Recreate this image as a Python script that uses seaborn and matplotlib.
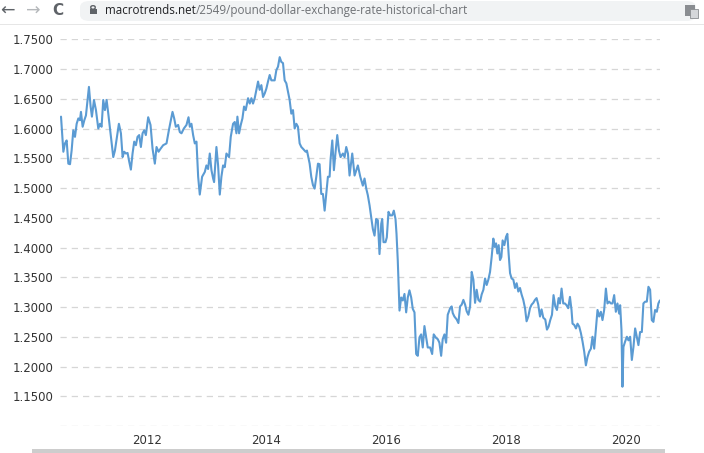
import numpy as np
import pandas as pd
import matplotlib
matplotlib.use("Agg")
import matplotlib.pyplot as plt
from matplotlib.patches import FancyBboxPatch, Rectangle
from matplotlib.text import Annotation
import seaborn as sns

# ---- data (decimal year, GBP/USD rate) ----
years = [
    2010.572, 2010.611, 2010.638, 2010.666, 2010.694, 2010.722, 2010.749, 2010.777, 2010.805, 2010.833,
    2010.861, 2010.888, 2010.905, 2010.933, 2010.961, 2010.988, 2011.016, 2011.038, 2011.066, 2011.088,
    2011.122, 2011.155, 2011.194, 2011.222, 2011.249, 2011.277, 2011.305, 2011.333, 2011.361, 2011.405,
    2011.444, 2011.472, 2011.511, 2011.538, 2011.572, 2011.600, 2011.627, 2011.655, 2011.683, 2011.711,
    2011.738, 2011.766, 2011.794, 2011.822, 2011.849, 2011.877, 2011.905, 2011.933, 2011.961, 2011.988,
    2012.027, 2012.066, 2012.100, 2012.138, 2012.166, 2012.200, 2012.233, 2012.277, 2012.333, 2012.372,
    2012.405, 2012.433, 2012.461, 2012.488, 2012.527, 2012.555, 2012.583, 2012.622, 2012.666, 2012.700,
    2012.722, 2012.749, 2012.777, 2012.805, 2012.833, 2012.861, 2012.888, 2012.927, 2012.972, 2012.999,
    2013.027, 2013.055, 2013.083, 2013.111, 2013.127, 2013.166, 2013.194, 2013.222, 2013.249, 2013.277,
    2013.305, 2013.333, 2013.377, 2013.405, 2013.444, 2013.472, 2013.500, 2013.516, 2013.544, 2013.572,
    2013.600, 2013.627, 2013.655, 2013.694, 2013.722, 2013.750, 2013.777, 2013.805, 2013.833, 2013.861,
    2013.888, 2013.916, 2013.944, 2013.972, 2013.999, 2014.027, 2014.055, 2014.083, 2014.138, 2014.166,
    2014.194, 2014.222, 2014.249, 2014.277, 2014.305, 2014.333, 2014.361, 2014.388, 2014.416, 2014.444,
    2014.472, 2014.500, 2014.527, 2014.555, 2014.583, 2014.611, 2014.655, 2014.677, 2014.694, 2014.722,
    2014.749, 2014.777, 2014.805, 2014.833, 2014.861, 2014.888, 2014.916, 2014.944, 2014.972, 2014.999,
    2015.027, 2015.055, 2015.072, 2015.100, 2015.127, 2015.155, 2015.183, 2015.211, 2015.238, 2015.277,
    2015.305, 2015.333, 2015.361, 2015.388, 2015.433, 2015.472, 2015.527, 2015.567, 2015.610, 2015.638,
    2015.667, 2015.693, 2015.722, 2015.750, 2015.777, 2015.805, 2015.833, 2015.860, 2015.888, 2015.917,
    2015.933, 2015.955, 2015.988, 2016.010, 2016.038, 2016.067, 2016.100, 2016.127, 2016.155, 2016.172,
    2016.193, 2016.222, 2016.250, 2016.277, 2016.305, 2016.333, 2016.360, 2016.388, 2016.417, 2016.443,
    2016.472, 2016.500, 2016.527, 2016.555, 2016.583, 2016.610, 2016.638, 2016.693, 2016.733, 2016.767,
    2016.793, 2016.833, 2016.860, 2016.888, 2016.917, 2016.943, 2016.972, 2017.000, 2017.027, 2017.067,
    2017.093, 2017.110, 2017.138, 2017.177, 2017.205, 2017.233, 2017.260, 2017.288, 2017.317, 2017.343,
    2017.372, 2017.400, 2017.427, 2017.455, 2017.483, 2017.510, 2017.538, 2017.567, 2017.593, 2017.622,
    2017.650, 2017.677, 2017.705, 2017.733, 2017.760, 2017.788, 2017.810, 2017.833, 2017.855, 2017.877,
    2017.900, 2017.922, 2017.943, 2017.972, 2018.000, 2018.022, 2018.043, 2018.067, 2018.093, 2018.122,
    2018.150, 2018.177, 2018.205, 2018.233, 2018.260, 2018.288, 2018.317, 2018.343, 2018.372, 2018.400,
    2018.427, 2018.455, 2018.483, 2018.510, 2018.538, 2018.567, 2018.593, 2018.622, 2018.655, 2018.683,
    2018.710, 2018.738, 2018.767, 2018.793, 2018.822, 2018.850, 2018.877, 2018.900, 2018.927, 2018.955,
    2018.983, 2019.010, 2019.038, 2019.067, 2019.093, 2019.110, 2019.138, 2019.167, 2019.193, 2019.222,
    2019.250, 2019.277, 2019.305, 2019.333, 2019.360, 2019.388, 2019.417, 2019.443, 2019.472, 2019.500,
    2019.527, 2019.555, 2019.583, 2019.610, 2019.638, 2019.667, 2019.693, 2019.722, 2019.750, 2019.777,
    2019.805, 2019.833, 2019.860, 2019.888, 2019.905, 2019.927, 2019.943, 2019.960, 2019.988, 2020.017,
    2020.043, 2020.072, 2020.100, 2020.127, 2020.155, 2020.183, 2020.210, 2020.238, 2020.267, 2020.293,
    2020.322, 2020.350, 2020.377, 2020.405, 2020.433, 2020.460, 2020.488, 2020.517, 2020.543, 2020.567,
]
rates = [
    1.620, 1.561, 1.575, 1.580, 1.541, 1.540, 1.563, 1.597, 1.586, 1.608,
    1.617, 1.614, 1.628, 1.603, 1.614, 1.622, 1.648, 1.670, 1.637, 1.620,
    1.648, 1.631, 1.600, 1.608, 1.603, 1.648, 1.631, 1.648, 1.625, 1.586,
    1.552, 1.563, 1.589, 1.608, 1.592, 1.552, 1.561, 1.558, 1.559, 1.544,
    1.531, 1.558, 1.578, 1.572, 1.586, 1.589, 1.569, 1.592, 1.597, 1.589,
    1.619, 1.606, 1.566, 1.541, 1.569, 1.561, 1.566, 1.572, 1.575, 1.597,
    1.614, 1.628, 1.617, 1.603, 1.606, 1.594, 1.592, 1.600, 1.606, 1.619,
    1.603, 1.608, 1.589, 1.575, 1.578, 1.519, 1.489, 1.519, 1.527, 1.538,
    1.532, 1.558, 1.530, 1.516, 1.510, 1.569, 1.538, 1.489, 1.519, 1.538,
    1.535, 1.558, 1.552, 1.586, 1.608, 1.611, 1.592, 1.620, 1.592, 1.606,
    1.617, 1.637, 1.631, 1.651, 1.642, 1.651, 1.642, 1.651, 1.665, 1.679,
    1.665, 1.673, 1.653, 1.659, 1.667, 1.679, 1.690, 1.681, 1.681, 1.698,
    1.704, 1.720, 1.712, 1.710, 1.681, 1.676, 1.662, 1.648, 1.625, 1.631,
    1.600, 1.608, 1.603, 1.575, 1.569, 1.566, 1.561, 1.563, 1.555, 1.541,
    1.519, 1.505, 1.499, 1.519, 1.541, 1.540, 1.490, 1.490, 1.462, 1.490,
    1.519, 1.519, 1.549, 1.580, 1.530, 1.561, 1.589, 1.563, 1.552, 1.558,
    1.552, 1.569, 1.558, 1.521, 1.558, 1.521, 1.538, 1.519, 1.504, 1.516,
    1.499, 1.488, 1.471, 1.451, 1.431, 1.420, 1.448, 1.446, 1.389, 1.440,
    1.448, 1.409, 1.409, 1.417, 1.460, 1.454, 1.454, 1.462, 1.448, 1.423,
    1.378, 1.294, 1.316, 1.311, 1.322, 1.291, 1.316, 1.328, 1.316, 1.297,
    1.291, 1.221, 1.218, 1.249, 1.254, 1.232, 1.268, 1.232, 1.232, 1.221,
    1.254, 1.248, 1.246, 1.240, 1.218, 1.246, 1.254, 1.240, 1.287, 1.298,
    1.301, 1.290, 1.284, 1.279, 1.273, 1.301, 1.304, 1.312, 1.304, 1.293,
    1.287, 1.301, 1.359, 1.346, 1.307, 1.329, 1.312, 1.309, 1.321, 1.329,
    1.348, 1.337, 1.346, 1.359, 1.384, 1.415, 1.401, 1.407, 1.390, 1.404,
    1.379, 1.384, 1.412, 1.404, 1.418, 1.423, 1.390, 1.357, 1.348, 1.346,
    1.332, 1.340, 1.326, 1.332, 1.321, 1.312, 1.298, 1.276, 1.284, 1.298,
    1.304, 1.307, 1.312, 1.315, 1.304, 1.284, 1.296, 1.282, 1.279, 1.262,
    1.267, 1.278, 1.287, 1.320, 1.301, 1.295, 1.315, 1.306, 1.331, 1.306,
    1.306, 1.303, 1.298, 1.317, 1.295, 1.272, 1.270, 1.264, 1.272, 1.267,
    1.256, 1.242, 1.225, 1.202, 1.216, 1.225, 1.230, 1.250, 1.230, 1.264,
    1.295, 1.284, 1.292, 1.278, 1.295, 1.331, 1.306, 1.309, 1.306, 1.306,
    1.320, 1.292, 1.306, 1.289, 1.303, 1.261, 1.166, 1.233, 1.242, 1.250,
    1.244, 1.250, 1.211, 1.233, 1.264, 1.250, 1.236, 1.258, 1.258, 1.306,
    1.309, 1.309, 1.334, 1.329, 1.278, 1.275, 1.295, 1.292, 1.306, 1.311,
]
year_ticks = [2012, 2014, 2016, 2018, 2020]
rate_ticks = [1.10, 1.15, 1.20, 1.25, 1.30, 1.35, 1.40, 1.45, 1.50, 1.55, 1.60, 1.65, 1.70, 1.75]
url_host = "macrotrends.net"
url_path = "/2549/pound-dollar-exchange-rate-historical-chart"

df = pd.DataFrame({"year": years, "rate": rates})

sns.set_theme(style="white")
plt.rcParams["font.family"] = ["DejaVu Sans"]

W, H = 704, 453
fig = plt.figure(figsize=(W / 100, H / 100), dpi=100)
fig.patch.set_facecolor("white")


def fx(px):
    return px / W


def fy(py):
    return 1 - py / H


# ---- chart ----
ax = fig.add_axes([fx(60), fy(426), fx(600), (426 - 39.3) / H])

sns.lineplot(data=df, x="year", y="rate", ax=ax, color="#5b9bd3", linewidth=1.5,
             estimator=None, sort=False)

ax.set_xlim(2010.555, 2020.57)
ax.set_ylim(1.10, 1.75)
ax.set_yticks(rate_ticks)
ax.set_yticklabels(["" if abs(v - 1.10) < 1e-9 else f"{v:.4f}" for v in rate_ticks])
ax.set_xticks(year_ticks)
ax.set_xticklabels([str(y) for y in year_ticks])
ax.set_xlabel("")
ax.set_ylabel("")
ax.tick_params(axis="both", length=0, labelsize=8.5, colors="#333333")
ax.tick_params(axis="y", pad=5)
ax.tick_params(axis="x", pad=6)
ax.yaxis.grid(True, color="#d6d6d6", linestyle=(0, (5, 4)), linewidth=0.9)
ax.xaxis.grid(False)
for s in ax.spines.values():
    s.set_visible(False)
ax.set_facecolor("white")

# ---- browser bar ----
pill = FancyBboxPatch((fx(80), fy(21)), fx(616), (21 - 1) / H,
                      boxstyle="round,pad=0,rounding_size=0.014",
                      transform=fig.transFigure, facecolor="#f1f3f4",
                      edgecolor="none", zorder=0)
fig.add_artist(pill)
fig.add_artist(Rectangle((0, fy(25)), 1, 1 / H, transform=fig.transFigure,
                         facecolor="#e6e6e6", edgecolor="none"))
fig.text(fx(7), fy(10.5), "\u2190", fontsize=12.5, color="#5f6368", ha="center", va="center")
fig.text(fx(33), fy(10.5), "\u2192", fontsize=12.5, color="#b5b8bb", ha="center", va="center")
fig.text(fx(58), fy(10.5), "C", fontsize=11, color="#5f6368", ha="center", va="center",
         fontweight="bold")
# lock glyph
fig.add_artist(Rectangle((fx(89.5), fy(14)), fx(7), 5.5 / H, transform=fig.transFigure,
                         facecolor="#5f6368", edgecolor="none"))
fig.add_artist(FancyBboxPatch((fx(90.8), fy(9.2)), fx(4.4), 3.5 / H,
                              boxstyle="round,pad=0,rounding_size=0.003",
                              transform=fig.transFigure, facecolor="none",
                              edgecolor="#5f6368", linewidth=1.0))
t_host = fig.text(fx(105), fy(10.5), url_host, fontsize=8.4, color="#202124",
                  ha="left", va="center", family=["Open Sans", "DejaVu Sans"])
ann = Annotation(url_path, xy=(1, 0.5), xycoords=t_host, xytext=(0, 0),
                 textcoords="offset points", fontsize=8.4, color="#6e7175",
                 ha="left", va="center", family=["Open Sans", "DejaVu Sans"],
                 annotation_clip=False)
fig.add_artist(ann)
# translate icon
fig.add_artist(Rectangle((fx(685), fy(16)), fx(10), 11 / H, transform=fig.transFigure,
                         facecolor="#8a8d91", edgecolor="none"))
fig.add_artist(Rectangle((fx(690), fy(18)), fx(8), 9 / H, transform=fig.transFigure,
                         facecolor="#d5d7da", edgecolor="#8a8d91", linewidth=0.6))

# bottom scrollbar
fig.add_artist(Rectangle((fx(32), 0), fx(633), 4 / H, transform=fig.transFigure,
                         facecolor="#cdcdcd", edgecolor="none"))

fig.savefig("out.png", dpi=100, facecolor="white")
